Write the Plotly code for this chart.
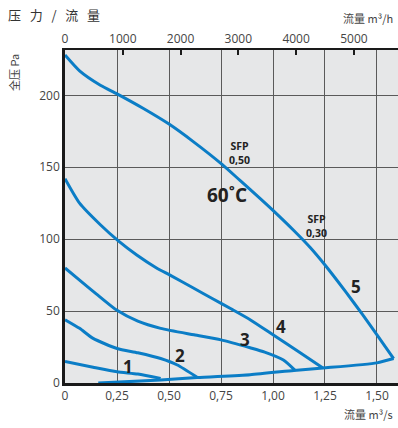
import plotly.graph_objects as go

# ---- data (flow m3/s, total pressure Pa) ----
q1 = [0, 0.135, 0.25, 0.35, 0.46]
p1 = [15, 11, 7.8, 6.2, 3.2]

q2 = [0, 0.07, 0.135, 0.25, 0.35, 0.46, 0.54, 0.635]
p2 = [44, 38, 31, 24, 21, 17, 12.5, 4]

q3 = [0, 0.07, 0.15, 0.25, 0.35, 0.46, 0.62, 0.75, 0.89, 0.96, 1.05, 1.105]
p3 = [80, 71.5, 62, 50.5, 43, 38, 33.5, 30, 24.5, 21.5, 16, 9]

q4 = [0, 0.07, 0.17, 0.255, 0.345, 0.44, 0.505, 0.615, 0.71, 0.80, 0.89, 1.00, 1.12, 1.24]
p4 = [142, 125, 110, 99, 89, 80, 75, 66.2, 58.6, 51.4, 44, 33.5, 22, 10.5]

q5 = [0, 0.07, 0.17, 0.25, 0.375, 0.50, 0.615, 0.755, 0.84, 0.94, 1.00, 1.10, 1.18, 1.25, 1.35, 1.43, 1.50, 1.58]
p5 = [228, 217, 207, 201, 191, 180, 168, 152, 141, 128, 120, 106, 94, 82, 63.3, 47.7, 33.4, 17]

q_sys = [0.16, 0.46, 0.635, 0.89, 1.1, 1.24, 1.5, 1.58]
p_sys = [0, 2, 3.8, 5.8, 8.7, 10.4, 14, 17]

x_ticks = [0, 0.25, 0.5, 0.75, 1.0, 1.25, 1.5]
x_ticktext = ["0", "0,25", "0,50", "0,75", "1,00", "1,25", "1,50"]
y_ticks = [0, 50, 100, 150, 200]
top_ticks = [0, 1000, 2000, 3000, 4000, 5000]

curve_labels = ["1", "2", "3", "4", "5"]

BLUE = "#0b7dc6"
XMAX = 1.601
YMAX = 231.5

fig = go.Figure()
for q, p in [(q1, p1), (q2, p2), (q3, p3), (q4, p4), (q5, p5)]:
    fig.add_trace(go.Scatter(x=q, y=p, mode="lines",
                             line=dict(color=BLUE, width=3, shape="spline", smoothing=0.6),
                             hoverinfo="skip", showlegend=False))
fig.add_trace(go.Scatter(x=q_sys, y=p_sys, mode="lines",
                         line=dict(color=BLUE, width=3, shape="spline", smoothing=0.6),
                         hoverinfo="skip", showlegend=False))
# dummy trace for top axis
fig.add_trace(go.Scatter(x=[0, XMAX * 3600], y=[None, None], xaxis="x2", mode="lines",
                         showlegend=False, hoverinfo="skip"))

tickfont = dict(family="Open Sans, sans-serif", size=12, color="#444")

sp = "&nbsp;&nbsp;&nbsp;"
fig.update_layout(
    width=398, height=428,
    margin=dict(l=65, r=0, t=50, b=45, autoexpand=False),
    paper_bgcolor="white",
    plot_bgcolor="#e6e7e8",
    showlegend=False,
    title=dict(text=sp.join(["压", "力", "/", "流", "量"]), x=8 / 398, xanchor="left",
               y=1 - 15 / 428, yanchor="middle", xref="container", yref="container",
               font=dict(family="Noto Sans CJK SC", size=13, color="#333")),
    xaxis=dict(range=[0, XMAX], tickvals=x_ticks, ticktext=x_ticktext, showgrid=True,
               gridcolor="#5a5a5a", gridwidth=1.2, zeroline=False, showline=True,
               linecolor="#1a1a1a", linewidth=2.5, ticks="", tickfont=tickfont,
               automargin=False),
    xaxis2=dict(range=[0, XMAX * 3600], overlaying="x", side="top", tickvals=top_ticks,
                showgrid=False, zeroline=False, showline=True, linecolor="#1a1a1a",
                linewidth=1.5, ticks="inside", ticklen=5, tickwidth=1.5, tickcolor="#1a1a1a",
                tickfont=tickfont, automargin=False),
    yaxis=dict(range=[0, YMAX], tickvals=y_ticks, showgrid=True, gridcolor="#5a5a5a",
               gridwidth=1.2, zeroline=False, showline=True, linecolor="#1a1a1a",
               linewidth=2.5, ticks="", tickfont=tickfont, automargin=False),
)

num_font = dict(family="Open Sans, sans-serif", size=17, color="#222")
label_pos = [(0.303, 11.8), (0.553, 18.8), (0.865, 30), (1.04, 39), (1.40, 67)]
for t, (x, y) in zip(curve_labels, label_pos):
    fig.add_annotation(x=x, y=y, text="<b>" + t + "</b>", showarrow=False, font=num_font)

fig.add_annotation(x=0.78, y=130.5, text="<b>60˚C</b>", showarrow=False,
                   font=dict(family="Open Sans, sans-serif", size=19, color="#222"))
sfp_font = dict(family="Open Sans, sans-serif", size=10.5, color="#222")
fig.add_annotation(x=0.841, y=159.7, text="<b>SFP<br>0,50</b>", showarrow=False, font=sfp_font)
fig.add_annotation(x=1.21, y=109, text="<b>SFP<br>0,30</b>", showarrow=False, font=sfp_font)

small = dict(family="Noto Sans CJK SC", size=11, color="#444")
fig.add_annotation(xref="paper", yref="paper", x=1.0, y=(428 - 18 - 45) / 333, xanchor="right",
                   yanchor="middle", text="流量 m³/h", showarrow=False, font=small, xshift=-3)
fig.add_annotation(xref="paper", yref="paper", x=1.0, y=(428 - 414 - 45) / 333, xanchor="right",
                   yanchor="middle", text="流量 m³/s", showarrow=False, font=small, xshift=-3)
fig.add_annotation(xref="paper", yref="paper", x=(14 - 65) / 333, y=(383 - 73) / 333,
                   xanchor="center", yanchor="middle", textangle=-90, text="全压 Pa",
                   showarrow=False, font=small)

fig.write_html("out.html", config={"displayModeBar": False},
               post_script="document.body.style.margin='0';document.body.style.overflow='hidden';")
